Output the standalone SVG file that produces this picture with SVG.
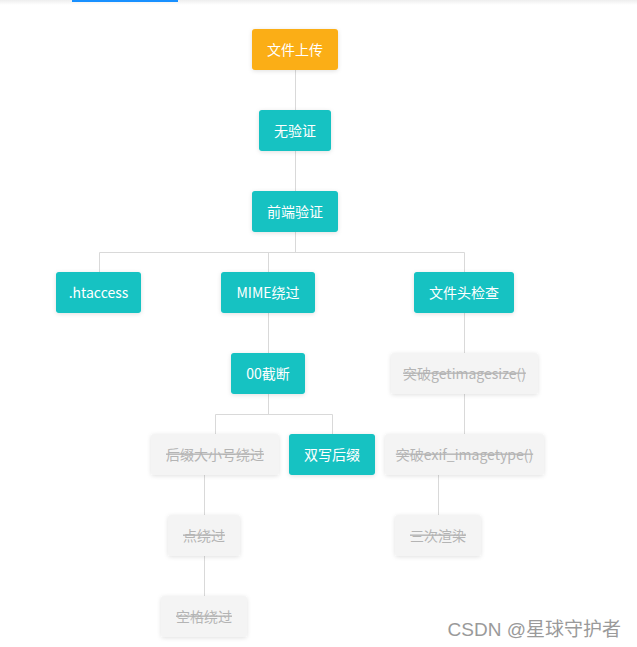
<svg xmlns="http://www.w3.org/2000/svg" width="637" height="647" viewBox="0 0 637 647">
<defs>
<filter id="sh" x="-20%" y="-30%" width="140%" height="160%">
<feDropShadow dx="0" dy="1" stdDeviation="2" flood-color="#000" flood-opacity="0.12"/>
</filter>
<linearGradient id="topg" x1="0" y1="0" x2="0" y2="1">
<stop offset="0" stop-color="#eeeeee"/>
<stop offset="1" stop-color="#ffffff"/>
</linearGradient>
</defs>
<style>
.t{font-family:"Microsoft YaHei","Noto Sans CJK SC","Noto Sans",sans-serif;font-size:14px;text-anchor:middle;}
.on rect{fill:#13c2c2;}
.on text{fill:#ffffff;}
.root rect{fill:#fbae17;}
.root text{fill:#ffffff;}
.off rect{fill:#f4f4f4;}
.off text{fill:#b4b4b4;text-decoration:line-through;}
.c{stroke:#d9d9d9;stroke-width:1;fill:none;}
</style>
<rect width="637" height="647" fill="#ffffff"/>
<rect x="0" y="0" width="637" height="5" fill="url(#topg)"/>
<rect x="72" y="0" width="106" height="2" fill="#1890ff"/>

<g id="connectors">
<path class="c" d="M295.5 70V110M295.5 151V191M295.5 232V252.5"/>
<path class="c" d="M99.5 272V252.5H464.5V272M268.5 252.5V272"/>
<path class="c" d="M268.5 313V353M268.5 394V414.5"/>
<path class="c" d="M215.5 434V414.5H332.5V434"/>
<path class="c" d="M204.5 475V515M204.5 556V596"/>
<path class="c" d="M464.5 313V353M464.5 394V434"/>
<path class="c" d="M438.5 475V515"/>
</g>

<g id="n-upload" class="t root"><rect x="252" y="29" width="86" height="41" rx="3" filter="url(#sh)"/><text x="295" y="54.5">文件上传</text></g>
<g id="n-none" class="t on"><rect x="259" y="110" width="72" height="41" rx="3" filter="url(#sh)"/><text x="295" y="135.5">无验证</text></g>
<g id="n-front" class="t on"><rect x="252" y="191" width="86" height="41" rx="3" filter="url(#sh)"/><text x="295" y="216.5">前端验证</text></g>
<g id="n-htaccess" class="t on"><rect x="56" y="272" width="85" height="41" rx="3" filter="url(#sh)"/><text x="98.5" y="297.5">.htaccess</text></g>
<g id="n-mime" class="t on"><rect x="221" y="272" width="94" height="41" rx="3" filter="url(#sh)"/><text x="268" y="297.5">MIME绕过</text></g>
<g id="n-header" class="t on"><rect x="414" y="272" width="100" height="41" rx="3" filter="url(#sh)"/><text x="464" y="297.5">文件头检查</text></g>
<g id="n-00" class="t on"><rect x="231" y="353" width="74" height="41" rx="3" filter="url(#sh)"/><text x="268" y="378.5">00截断</text></g>
<g id="n-getimagesize" class="t off"><rect x="391" y="353" width="147" height="41" rx="3" filter="url(#sh)"/><text x="464.5" y="378.5">突破getimagesize()</text></g>
<g id="n-case" class="t off"><rect x="151" y="434" width="128" height="41" rx="3" filter="url(#sh)"/><text x="215" y="459.5">后缀大小号绕过</text></g>
<g id="n-double" class="t on"><rect x="289" y="434" width="86" height="41" rx="3" filter="url(#sh)"/><text x="332" y="459.5">双写后缀</text></g>
<g id="n-exif" class="t off"><rect x="385" y="434" width="159" height="41" rx="3" filter="url(#sh)"/><text x="464.5" y="459.5">突破exif_imagetype()</text></g>
<g id="n-dot" class="t off"><rect x="168" y="515" width="72" height="41" rx="3" filter="url(#sh)"/><text x="204" y="540.5">点绕过</text></g>
<g id="n-render" class="t off"><rect x="395" y="515" width="86" height="41" rx="3" filter="url(#sh)"/><text x="438" y="540.5">三次渲染</text></g>
<g id="n-space" class="t off"><rect x="161" y="596" width="86" height="41" rx="3" filter="url(#sh)"/><text x="204" y="621.5">空格绕过</text></g>

<text x="621" y="636" font-family="'Liberation Sans','Noto Sans CJK SC',sans-serif" font-size="19" fill="#9a9a9a" text-anchor="end">CSDN @星球守护者</text>
</svg>
